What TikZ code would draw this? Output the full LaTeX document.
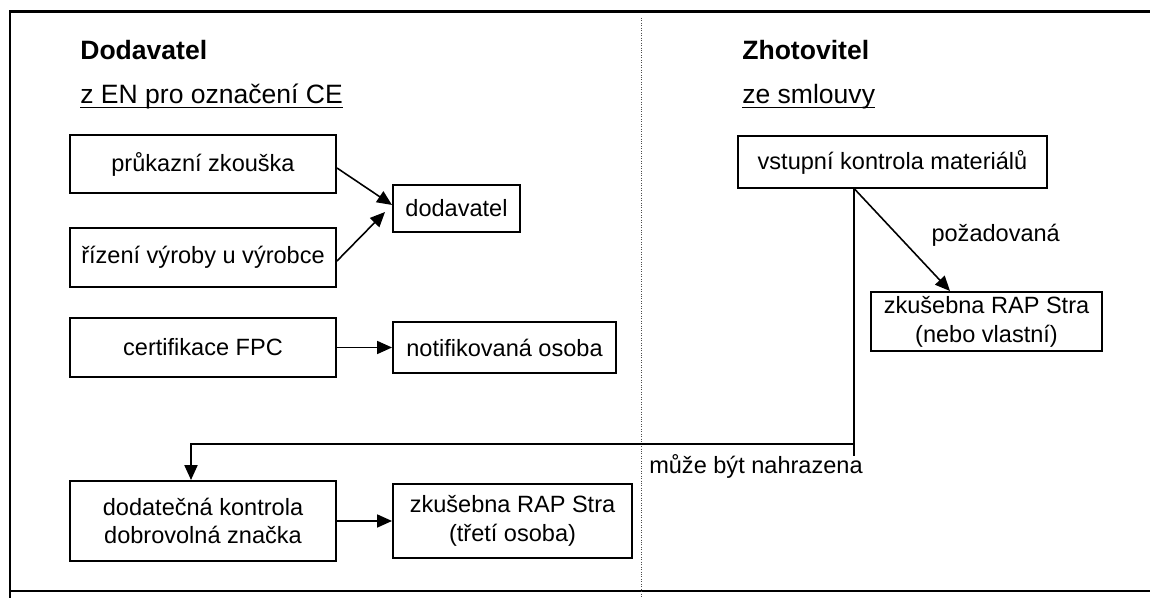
\documentclass[tikz,border=0pt]{standalone}
\usepackage{fontspec}
\setmainfont{Liberation Sans}
\usetikzlibrary{arrows.meta}

\begin{document}
\begin{tikzpicture}[
		b/.style = {rectangle, draw, line width=1.1pt, align=center, inner sep=0pt, font=\fontsize{13.4}{16.4}\selectfont},
		h/.style = {anchor=base west, inner sep=0pt, font=\fontsize{15.1}{18}\selectfont\bfseries},
		u/.style = {anchor=base west, inner sep=0pt, font=\fontsize{15.1}{18}\selectfont},
		t/.style = {inner sep=0pt, font=\fontsize{13.4}{16.4}\selectfont},
		r/.style = {-{Triangle[length=8.5pt, width=7.4pt]}, line width=0.9pt},
		l/.style = {line width=1.1pt}
		]
		\useasboundingbox (0, 0) rectangle (23, 11.96);
		
		%Frame
		\draw[line width=1.5pt] (23, 11.73) -- (0.2, 11.73) -- (0.2, 0);
		\draw[line width=1.5pt] (0.2, 0.14) -- (23, 0.14);
		\draw[densely dotted, thin, black!70] (12.82, 11.6) -- (12.82, 0);
		
		%Headings
		\node[h]	(dodhead)	at (1.6, 10.76)		{Dodavatel};
		\node[u]	(dodsub)	at (1.6, 9.88)		{z EN pro označení CE};
		\node[h]	(zhohead)	at (14.84, 10.76)	{Zhotovitel};
		\node[u]	(zhosub)	at (14.84, 9.88)	{ze smlouvy};
		\draw[line width=0.8pt] ([yshift=-0.075cm]dodsub.base west) -- ([yshift=-0.075cm]dodsub.base east);
		\draw[line width=0.8pt] ([yshift=-0.075cm]zhosub.base west) -- ([yshift=-0.075cm]zhosub.base east);
		
		%Nodes
		\node[b, minimum width=5.32cm, minimum height=1.16cm]	(pruk)		at (4.06, 8.68)		{průkazní zkouška};
		\node[b, minimum width=5.32cm, minimum height=1.18cm]	(rizeni)	at (4.06, 6.81)		{řízení výroby u výrobce};
		\node[b, minimum width=5.32cm, minimum height=1.18cm]	(fpc)		at (4.06, 5.01)		{certifikace FPC};
		\node[b, minimum width=2.54cm, minimum height=0.94cm]	(dod)		at (9.13, 7.79)		{dodavatel};
		\node[b, minimum width=4.46cm, minimum height=1.02cm]	(notif)		at (10.09, 5.01)	{notifikovaná osoba};
		\node[b, minimum width=6.18cm, minimum height=1.04cm]	(vstup)		at (17.85, 8.72)	{vstupní kontrola materiálů};
		\node[b, minimum width=4.62cm, minimum height=1.18cm]	(zkus1)		at (19.73, 5.53)	{zkušebna RAP Stra\\(nebo vlastní)};
		\node[b, minimum width=5.32cm, minimum height=1.6cm]	(dodat)		at (4.06, 1.54)		{dodatečná kontrola\\dobrovolná značka};
		\node[b, minimum width=4.78cm, minimum height=1.48cm]	(zkus2)		at (10.25, 1.54)	{zkušebna RAP Stra\\(třetí osoba)};
		
		\coordinate	(branch)	at (17.08, 3.08);
		\coordinate	(tail)		at (17.08, 2.84);
		
		%Lines
		\draw[r] ([yshift=-0.08cm]pruk.east) to ([yshift=0.07cm]dod.west);
		\draw[r] ([yshift=-0.07cm]rizeni.east) to ([xshift=-0.14cm, yshift=-0.07cm]dod.west);
		\draw[r] (fpc.east) to (notif.west);
		\draw[r] (dodat.east) to (zkus2.west);
		
		\draw[r] ([xshift=-0.76cm]vstup.south) to node[t, right, xshift=0.57cm, yshift=0.09cm] (req) {požadovaná} ([xshift=-0.73cm]zkus1.north);
		\draw[l] ([xshift=-0.77cm]vstup.south) -- (tail);
		\draw[r, line width=1.1pt] (branch) -| ([xshift=-0.24cm]dodat.north);
		\node[t, anchor=east] (repl) at ([xshift=0.18cm, yshift=-0.44cm]branch) {může být nahrazena};
		
	\end{tikzpicture}
\end{document}
